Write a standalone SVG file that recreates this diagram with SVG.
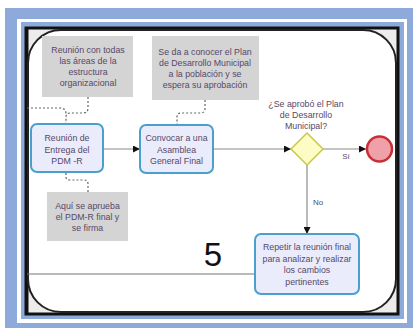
<svg xmlns="http://www.w3.org/2000/svg" width="414" height="329" viewBox="0 0 414 329">
<style>
  text { font-family: "Liberation Sans", Arial, sans-serif; font-size: 8.8px; fill: #574868; text-anchor: middle; }
  .note { fill: #d4d4d4; }
  .task { fill: #eaecfb; stroke: #4b9fcb; stroke-width: 2; }
  .flow { fill: none; stroke: #8a8a8a; stroke-width: 1.2; }
  .assoc { fill: none; stroke: #666; stroke-width: 1.2; stroke-dasharray: 2 2; }
  .small { font-size: 8px; }
</style>
<defs>
  <marker id="arrow" viewBox="0 0 8 8" refX="8" refY="4" markerWidth="7" markerHeight="7" markerUnits="userSpaceOnUse" orient="auto">
    <path d="M0,0 L8,4 L0,8 z" fill="#111"/>
  </marker>
</defs>
<rect width="414" height="329" fill="#ffffff"/>
<!-- frame -->
<rect x="5" y="8" width="408" height="320" fill="#8eaadb"/>
<rect x="17" y="19" width="390" height="304" fill="#ffffff"/>
<rect x="21" y="22" width="383" height="297" fill="#8eaadb"/>
<rect x="26" y="28" width="372" height="286" fill="#ececec" stroke="#111" stroke-width="3"/>
<line x1="27" y1="28" x2="27" y2="314" stroke="#111" stroke-width="3"/>
<rect x="28" y="30" width="368" height="282" rx="33" ry="33" fill="#ffffff" stroke="#222" stroke-width="2"/>
<line x1="27" y1="274" x2="255" y2="274" stroke="#777" stroke-width="1.2"/>
<text x="213" y="266" style="font-size:33px;fill:#111">5</text>

<g id="connectors">
  <line class="flow" x1="103" y1="149" x2="140" y2="149" marker-end="url(#arrow)"/>
  <line class="flow" x1="213" y1="149" x2="291" y2="149" marker-end="url(#arrow)"/>
  <line class="flow" x1="323" y1="149" x2="366" y2="149" marker-end="url(#arrow)"/>
  <line class="flow" x1="307" y1="165" x2="307" y2="234" marker-end="url(#arrow)"/>
  <path class="assoc" d="M88,97 V108 Q88,113 83,113 H70 Q66,113 66,117 V124"/>
  <path class="assoc" d="M27,108 H60 Q66,108 66,114"/>
  <path class="assoc" d="M205,100 V109 Q205,113 200,113 H181 Q177,113 177,117 V125"/>
  <path class="assoc" d="M66,173 V177 Q66,180 70,180 H84 Q88,180 88,184 V192"/>
  <text class="small" x="346" y="159">Sí</text>
  <text class="small" x="318" y="205">No</text>
</g>

<g id="note1">
  <rect class="note" x="42" y="36" width="91" height="61"/>
  <text x="88" y="53">Reunión con todas</text>
  <text x="88" y="64">las áreas de la</text>
  <text x="88" y="75">estructura</text>
  <text x="88" y="86">organizacional</text>
</g>

<g id="note2">
  <rect class="note" x="152" y="36" width="107" height="64"/>
  <text x="205" y="55">Se da a conocer el Plan</text>
  <text x="205" y="66">de Desarrollo Municipal</text>
  <text x="205" y="77">a la población y se</text>
  <text x="205" y="88">espera su aprobación</text>
</g>

<g id="task1">
  <rect class="task" x="31" y="124" width="72" height="48" rx="6" ry="6"/>
  <text x="67" y="141">Reunión de</text>
  <text x="67" y="152.5">Entrega del</text>
  <text x="67" y="164">PDM -R</text>
</g>

<g id="task2">
  <rect class="task" x="140" y="125" width="73" height="48" rx="6" ry="6"/>
  <text x="176.5" y="141">Convocar a una</text>
  <text x="176.5" y="152.5">Asamblea</text>
  <text x="176.5" y="164">General Final</text>
</g>

<g id="gateway">
  <path d="M307,133 L323,149 L307,165 L291,149 z" fill="#fdfcc5" stroke="#c8c84a" stroke-width="1.5"/>
  <text x="306" y="107">¿Se aprobó el Plan</text>
  <text x="306" y="118">de Desarrollo</text>
  <text x="306" y="129">Municipal?</text>
</g>

<g id="end">
  <circle cx="379.5" cy="149" r="12.5" fill="#f0a0a8" stroke="#c83038" stroke-width="2.5"/>
</g>

<g id="task3">
  <rect class="task" x="255" y="234" width="104" height="60" rx="6" ry="6"/>
  <text x="307" y="250">Repetir la reunión final</text>
  <text x="307" y="261.5">para analizar y realizar</text>
  <text x="307" y="273">los cambios</text>
  <text x="307" y="284.5">pertinentes</text>
</g>

<g id="note3">
  <rect class="note" x="47" y="192" width="81" height="49"/>
  <text x="87.5" y="209">Aquí se aprueba</text>
  <text x="87.5" y="220">el PDM-R final y</text>
  <text x="87.5" y="231">se firma</text>
</g>
</svg>
